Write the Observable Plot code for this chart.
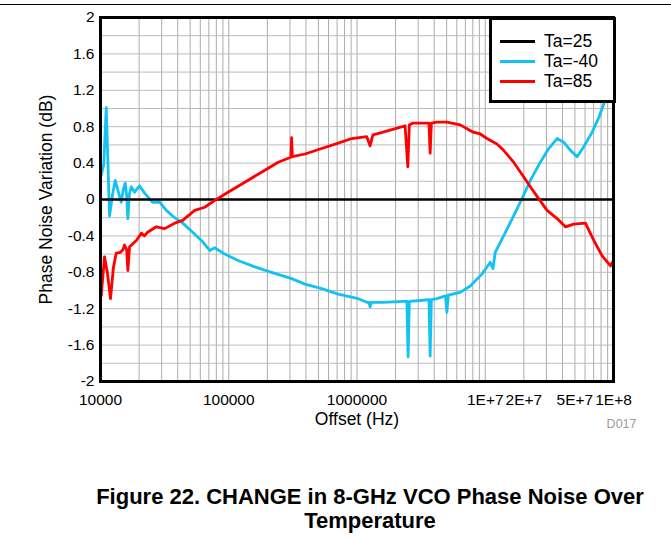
<!DOCTYPE html>
<html>
<head>
<meta charset="utf-8">
<script src="https://cdn.jsdelivr.net/npm/d3@7"></script>
<script src="https://cdn.jsdelivr.net/npm/@observablehq/plot@0.6"></script>
<style>
  html, body { margin: 0; padding: 0; background: #fff; }
  body { font-family: "Liberation Sans", Arial, sans-serif; color: #000; }
  #wrap { position: relative; width: 671px; height: 539px; overflow: hidden; }
  #topline { position: absolute; left: 0; top: 4px; width: 671px; height: 1px; background: #000; }
  #chart { position: absolute; left: 0; top: 0; }
  #legend { position: absolute; left: 489px; top: 17px; width: 127px; height: 86px; box-sizing: border-box;
            border: 3px solid #000; background: #fff; }
  .row { position: absolute; left: 8px; height: 18px; display: flex; align-items: center; }
  .sw { width: 35px; height: 3px; margin-right: 9px; }
  .lt { display: block; height: 18px; line-height: 18px; font-size: 17.5px; white-space: nowrap; }
  #caption { position: absolute; left: 70px; width: 600px; top: 485px; text-align: center; font-weight: bold;
             font-size: 22px; line-height: 24px; }
</style>
</head>
<body>
<div id="wrap">
  <div id="chart"></div>
  <div id="topline"></div>
  <div id="legend"></div>
  <div id="caption"></div>
</div>
<script>
// ---- data ----
const seriesNames = ["Ta=25", "Ta=-40", "Ta=85"];
const seriesColors = ["#000000", "#12C2F2", "#FF0000"];

const offsets25 = [1e4, 1e5, 1e6, 1e7, 1e8];
const values25  = [0, 0, 0, 0, 0];

const offsetsM40 = [1.0e4, 1.013e4, 1.06e4, 1.108e4, 1.14e4, 1.176e4, 1.24e4, 1.302e4, 1.38e4, 1.451e4,
  1.51e4, 1.56e4, 1.60e4, 1.634e4, 1.68e4, 1.737e4, 1.844e4, 1.93e4, 2.017e4, 2.207e4,
  2.548e4, 2.891e4, 3.262e4, 3.786e4, 4.372e4, 5.233e4, 6.119e4, 7.106e4, 7.776e4, 9.306e4,
  1.182e5, 1.597e5, 2.156e5, 3.09e5, 3.926e5, 5.301e5, 7.144e5, 1.024e6, 1.191e6, 1.24e6,
  1.264e6, 1.29e6, 1.597e6, 2.288e6, 2.45e6, 2.503e6, 2.56e6, 3.106e6, 3.64e6, 3.718e6,
  3.80e6, 4.195e6, 4.9e6, 5.021e6, 5.15e6, 6.378e6, 7.637e6, 9.424e6, 1.094e7, 1.149e7,
  1.197e7, 1.31e7, 1.39e7, 1.664e7, 1.935e7, 2.247e7, 2.69e7, 3.123e7, 3.633e7, 4.09e7,
  4.614e7, 5.205e7, 5.861e7, 6.817e7, 7.679e7, 8.4e7, 9.2e7, 1e8];
const valuesM40 = [0.24, 0.27, 0.38, 1.01, 0.45, -0.18, 0.05, 0.21, 0.08, -0.03,
  0.12, 0.18, 0.04, -0.21, 0.06, 0.14, 0.08, 0.12, 0.15, 0.07,
  -0.03, -0.03, -0.12, -0.20, -0.26, -0.36, -0.45, -0.56, -0.53, -0.60,
  -0.67, -0.74, -0.80, -0.87, -0.93, -0.98, -1.04, -1.09, -1.13, -1.13,
  -1.18, -1.13, -1.13, -1.12, -1.12, -1.73, -1.12, -1.11, -1.10, -1.72,
  -1.10, -1.09, -1.06, -1.24, -1.05, -1.02, -0.95, -0.82, -0.69, -0.76,
  -0.58, -0.47, -0.40, -0.18, 0.01, 0.21, 0.41, 0.56, 0.67, 0.63,
  0.54, 0.47, 0.58, 0.74, 0.90, 1.05, 1.22, 1.38];

const offsets85 = [1.0e4, 1.013e4, 1.075e4, 1.13e4, 1.197e4, 1.26e4, 1.326e4, 1.433e4, 1.50e4, 1.54e4,
  1.60e4, 1.634e4, 1.685e4, 1.901e4, 2.08e4, 2.2e4, 2.329e4, 2.724e4, 3.162e4, 3.786e4,
  4.372e4, 5.425e4, 6.494e4, 7.776e4, 9.874e4, 1.334e5, 1.801e5, 2.428e5, 3.05e5, 3.09e5,
  3.13e5, 3.926e5, 5.301e5, 7.144e5, 9.092e5, 1.191e6, 1.264e6, 1.33e6, 1.597e6, 2.371e6,
  2.489e6, 2.56e6, 2.738e6, 3.64e6, 3.718e6, 3.80e6, 4.195e6, 5.021e6, 6.378e6, 8.058e6,
  9.14e6, 1.031e7, 1.234e7, 1.39e7, 1.664e7, 1.991e7, 2.247e7, 2.609e7, 3.034e7, 3.633e7,
  4.217e7, 4.896e7, 6.043e7, 7.018e7, 8.164e7, 9.475e7, 1e8];
const values85 = [-1.02, -1.06, -0.63, -0.80, -1.09, -0.75, -0.59, -0.58, -0.55, -0.50,
  -0.55, -0.78, -0.52, -0.45, -0.37, -0.40, -0.36, -0.30, -0.32, -0.26,
  -0.23, -0.12, -0.085, -0.01, 0.08, 0.19, 0.30, 0.41, 0.465, 0.68,
  0.47, 0.50, 0.56, 0.62, 0.67, 0.69, 0.59, 0.71, 0.74, 0.81,
  0.36, 0.82, 0.84, 0.84, 0.51, 0.84, 0.85, 0.85, 0.82, 0.74,
  0.72, 0.67, 0.61, 0.54, 0.41, 0.25, 0.14, 0.01, -0.12, -0.21,
  -0.30, -0.27, -0.26, -0.45, -0.62, -0.73, -0.67];

const xTicks = [1e4, 1e5, 1e6, 1e7, 2e7, 5e7, 1e8];
const xTickLabels = ["10000", "100000", "1000000", "1E+7", "2E+7", "5E+7", "1E+8"];
const yTicks = [-2, -1.6, -1.2, -0.8, -0.4, 0, 0.4, 0.8, 1.2, 1.6, 2];
const yTickLabels = ["-2", "-1.6", "-1.2", "-0.8", "-0.4", "0", "0.4", "0.8", "1.2", "1.6", "2"];
const yGrid = [-1.8, -1.6, -1.4, -1.2, -1, -0.8, -0.6, -0.4, -0.2, 0.2, 0.4, 0.6, 0.8, 1, 1.2, 1.4, 1.6, 1.8];

const xTitle = "Offset (Hz)";
const yTitle = "Phase Noise Variation (dB)";
const code = "D017";
const captionLines = ["Figure 22. CHANGE in 8-GHz VCO Phase Noise Over", "Temperature"];

// ---- build ----
const xGrid = [];
for (let e = 4; e < 8; e++) for (let m = 1; m <= 9; m++) if (!(e === 4 && m === 1)) xGrid.push(m * Math.pow(10, e));

const toRows = (xs, ys) => xs.map((x, i) => ({offset: x, value: ys[i]}));
const d25 = toRows(offsets25, values25);
const dM40 = toRows(offsetsM40, valuesM40);
const d85 = toRows(offsets85, values85);
const xTickRows = xTicks.map((t, i) => ({t, label: xTickLabels[i]}));

const yLab = new Map(yTicks.map((t, i) => [t, yTickLabels[i]]));

const chart = Plot.plot({
  width: 671,
  height: 440,
  marginLeft: 100,
  marginRight: 58,
  marginTop: 17,
  marginBottom: 59,
  style: {fontFamily: "'Liberation Sans', Arial, sans-serif", fontSize: "15.5px", color: "#000", background: "transparent"},
  x: {type: "log", domain: [1e4, 1e8], axis: null},
  y: {domain: [-2, 2], axis: null},
  marks: [
    Plot.gridX(xGrid, {stroke: "#ababab", strokeOpacity: 1, strokeWidth: 1}),
    Plot.gridY(yGrid, {stroke: "#bdbdbd", strokeOpacity: 1, strokeWidth: 1}),
    Plot.line(dM40, {x: "offset", y: "value", stroke: seriesColors[1], strokeWidth: 2.8}),
    Plot.line(d25, {x: "offset", y: "value", stroke: seriesColors[0], strokeWidth: 2.6}),
    Plot.line(d85, {x: "offset", y: "value", stroke: seriesColors[2], strokeWidth: 2.8}),
    Plot.frame({stroke: "#000", strokeWidth: 3}),
    Plot.text(xTickRows, {x: "t", text: "label", frameAnchor: "bottom", dy: 19, lineAnchor: "middle", fontSize: 15.5}),
    Plot.axisY(yTicks, {tickFormat: d => yLab.get(d), tickSize: 0, tickPadding: 6, label: null, fontSize: 15.5}),
    Plot.text([xTitle], {text: d => d, frameAnchor: "bottom", dy: 38, lineAnchor: "middle", fontSize: 17.5}),
    Plot.text([yTitle], {text: d => d, frameAnchor: "left", dx: -54, rotate: -90, textAnchor: "middle", lineAnchor: "middle", fontSize: 17.5}),
    Plot.text([code], {text: d => d, frameAnchor: "bottom-right", dx: 23, dy: 42, textAnchor: "end", lineAnchor: "middle", fontSize: 12.5, fill: "#9a9a9a"})
  ]
});
document.getElementById("chart").appendChild(chart);

// legend
const legend = document.getElementById("legend");
const rowTops = [12, 32, 52];
seriesNames.forEach((name, i) => {
  const row = document.createElement("div");
  row.className = "row";
  row.style.top = rowTops[i] + "px";
  const sw = document.createElement("div");
  sw.className = "sw";
  sw.style.background = seriesColors[i];
  const t = document.createElement("div");
  t.className = "lt";
  t.textContent = name;
  row.appendChild(sw);
  row.appendChild(t);
  legend.appendChild(row);
});

// caption
const cap = document.getElementById("caption");
captionLines.forEach(l => { const d = document.createElement("div"); d.textContent = l; cap.appendChild(d); });
</script>
</body>
</html>
